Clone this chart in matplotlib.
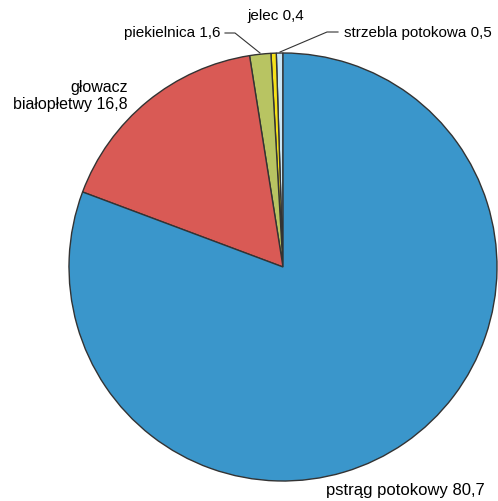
import matplotlib.pyplot as plt

# data (percent)
species = ["strzebla potokowa", "jelec", "piekielnica", "głowacz\nbiałopłetwy", "pstrąg potokowy"]
values = [0.5, 0.4, 1.6, 16.8, 80.7]
value_labels = ["0,5", "0,4", "1,6", "16,8", "80,7"]
colors = ["#c9e6f6", "#f5e11a", "#b8c462", "#d95a55", "#3a96cb"]

plt.rcParams["font.family"] = ["Liberation Sans", "DejaVu Sans"]

W, H = 498, 501
fig = plt.figure(figsize=(W / 100, H / 100), dpi=100)
ax = fig.add_axes([0, 0, 1, 1])

cx, cy, r = 283, H - 267, 214
ax.pie(values, colors=colors, startangle=90, counterclock=True,
       center=(cx, cy), radius=r, frame=True,
       wedgeprops=dict(edgecolor="#333333", linewidth=1.0))

ax.set_xlim(0, W)
ax.set_ylim(0, H)
ax.set_aspect("equal")
ax.axis("off")

fs = 11
ax.text(220, H - 33, f"{species[2]} {value_labels[2]}", ha="right", va="center", fontsize=fs)
ax.text(247, H - 16, f"{species[1]} {value_labels[1]}", ha="left", va="center", fontsize=fs)
ax.text(344, H - 33, f"{species[0]} {value_labels[0]}", ha="left", va="center", fontsize=fs)
ax.text(128, H - 96, f"{species[3]} {value_labels[3]}", ha="right", va="center",
        fontsize=11.5, multialignment="right", linespacing=1.1)
ax.text(326, H - 490, f"{species[4]} {value_labels[4]}", ha="left", va="center", fontsize=12)

# leader lines
ax.plot([225, 235, 260], [H - 33, H - 33, H - 53], color="#333333", lw=0.8)
ax.plot([338, 327, 280], [H - 32, H - 32, H - 52], color="#333333", lw=0.8)

fig.savefig("out.png", dpi=100)
